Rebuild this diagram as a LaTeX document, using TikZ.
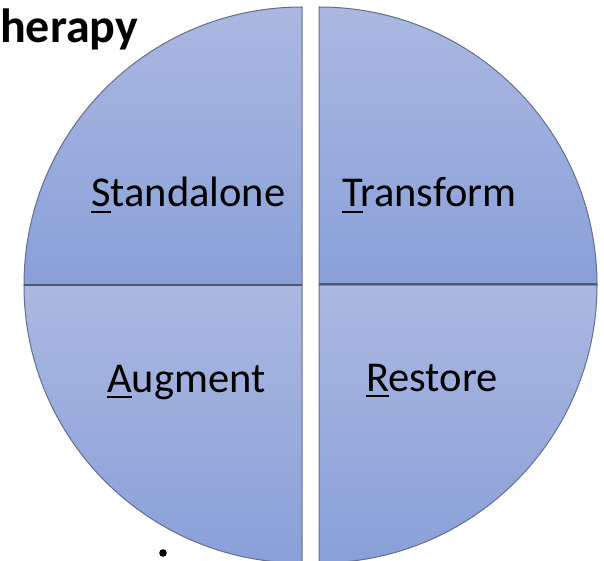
\documentclass[tikz,border=0pt]{standalone}
\usepackage{fontspec}
\setmainfont{Carlito}
\definecolor{pieTop}{HTML}{ABB8E1}
\definecolor{pieBot}{HTML}{89A0D8}
\definecolor{pieEdge}{HTML}{656E8E}
\definecolor{pieSplit}{HTML}{4E5874}
\newcommand\firstul[1]{\setbox0\hbox{#1}\rlap{\rule[-6pt]{\wd0}{1.8pt}}#1}
\tikzset{
  quarter/.style={top color=pieTop, bottom color=pieBot, draw=pieEdge, line width=1pt},
  pielbl/.style={anchor=base west, inner sep=0pt, font=\fontsize{42.5}{42.5}\selectfont}
}
\begin{document}
\begin{tikzpicture}[x=1pt, y=-1pt]
		\useasboundingbox (0,0) rectangle (604,561);
		\clip (0,0) rectangle (604,561);

		% Tittel (avkuttet)
		\node[anchor=base west, inner sep=0pt, font=\bfseries\fontsize{48}{48}\selectfont] (title) at (0,43) {herapy};

		% Fire kvadranter
		\path[quarter] (302,285) -- (24,285) arc[start angle=180, end angle=270, radius=278] -- cycle;
		\path[quarter] (319,285) -- (319,7) arc[start angle=270, end angle=360, radius=278] -- cycle;
		\path[quarter] (302,285) -- (24,285) arc[start angle=180, end angle=90, radius=278] -- cycle;
		\path[quarter] (319,285) -- (597,285) arc[start angle=0, end angle=90, radius=278] -- cycle;

		% Skillelinjer
		\draw[pieSplit, line width=1.6pt] (24,285) -- (302,285);
		\draw[pieSplit, line width=1.6pt] (319,284) -- (597,284);

		% Tekster
		\node[pielbl] (standalone) at (91,207) {\firstul{S}tandalone};
		\node[pielbl] (transform) at (342,207) {\firstul{T}ransform};
		\node[pielbl] (augment) at (107,392) {\firstul{A}ugment};
		\node[pielbl] (restore) at (366,391) {\firstul{R}estore};

		% Punkt nederst
		\fill (163,553) circle[radius=3.8];
	\end{tikzpicture}
\end{document}
